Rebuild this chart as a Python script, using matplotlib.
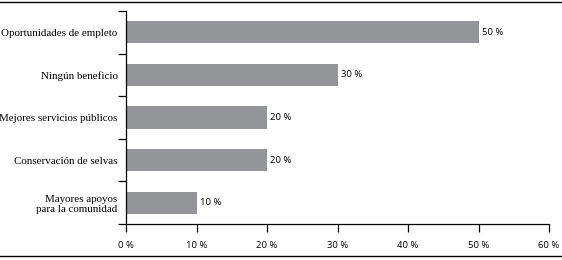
import matplotlib.pyplot as plt
from matplotlib.lines import Line2D

# Datos
categorias = ["Oportunidades de empleto", "Ningún beneficio", "Mejores servicios públicos",
              "Conservación de selvas", "Mayores apoyos\npara la comunidad"]
valores = [50, 30, 20, 20, 10]
ticks_x = [0, 10, 20, 30, 40, 50, 60]

gris = "#939598"
serif = "Liberation Serif"
sans = "Open Sans"

fig = plt.figure(figsize=(5.62, 2.6), dpi=100)
ax = fig.add_axes([0.2242, 0.1385, 0.7527, 0.8192])

pos = list(range(len(categorias)))
ax.barh(pos, valores, height=0.52, color=gris, zorder=2)
ax.set_ylim(len(categorias) - 0.5, -0.5)
ax.set_xlim(0, 60)

# etiquetas de valor
for p, v in zip(pos, valores):
    ax.text(v + 0.45, p, f"{v} %", va="center", ha="left", fontsize=6.8, family=sans)

# eje y: separadores entre categorias
ax.set_yticks([p - 0.5 for p in pos] + [len(categorias) - 0.5])
ax.set_yticklabels([])
ax.set_yticks(pos, minor=True)
ax.set_yticklabels(categorias, minor=True, fontsize=7.9, family=serif, ha="right",
                   linespacing=1.15)
ax.tick_params(axis="y", which="major", length=6, width=0.9, direction="out")
ax.tick_params(axis="y", which="minor", length=0, pad=6)

ax.set_xticks(ticks_x)
ax.set_xticklabels([f"{t} %" for t in ticks_x], fontsize=6.8, family=sans)
ax.tick_params(axis="x", length=6, width=0.9, direction="out", pad=6)

for s in ["top", "right"]:
    ax.spines[s].set_visible(False)
for s in ["left", "bottom"]:
    ax.spines[s].set_linewidth(0.9)

# lineas de marco superior e inferior
fig.add_artist(Line2D([0, 1], [1 - 2 / 260, 1 - 2 / 260], color="black", lw=1, transform=fig.transFigure))
fig.add_artist(Line2D([0, 1], [1 - 256 / 260, 1 - 256 / 260], color="black", lw=1, transform=fig.transFigure))

fig.savefig("out.png", dpi=100)
